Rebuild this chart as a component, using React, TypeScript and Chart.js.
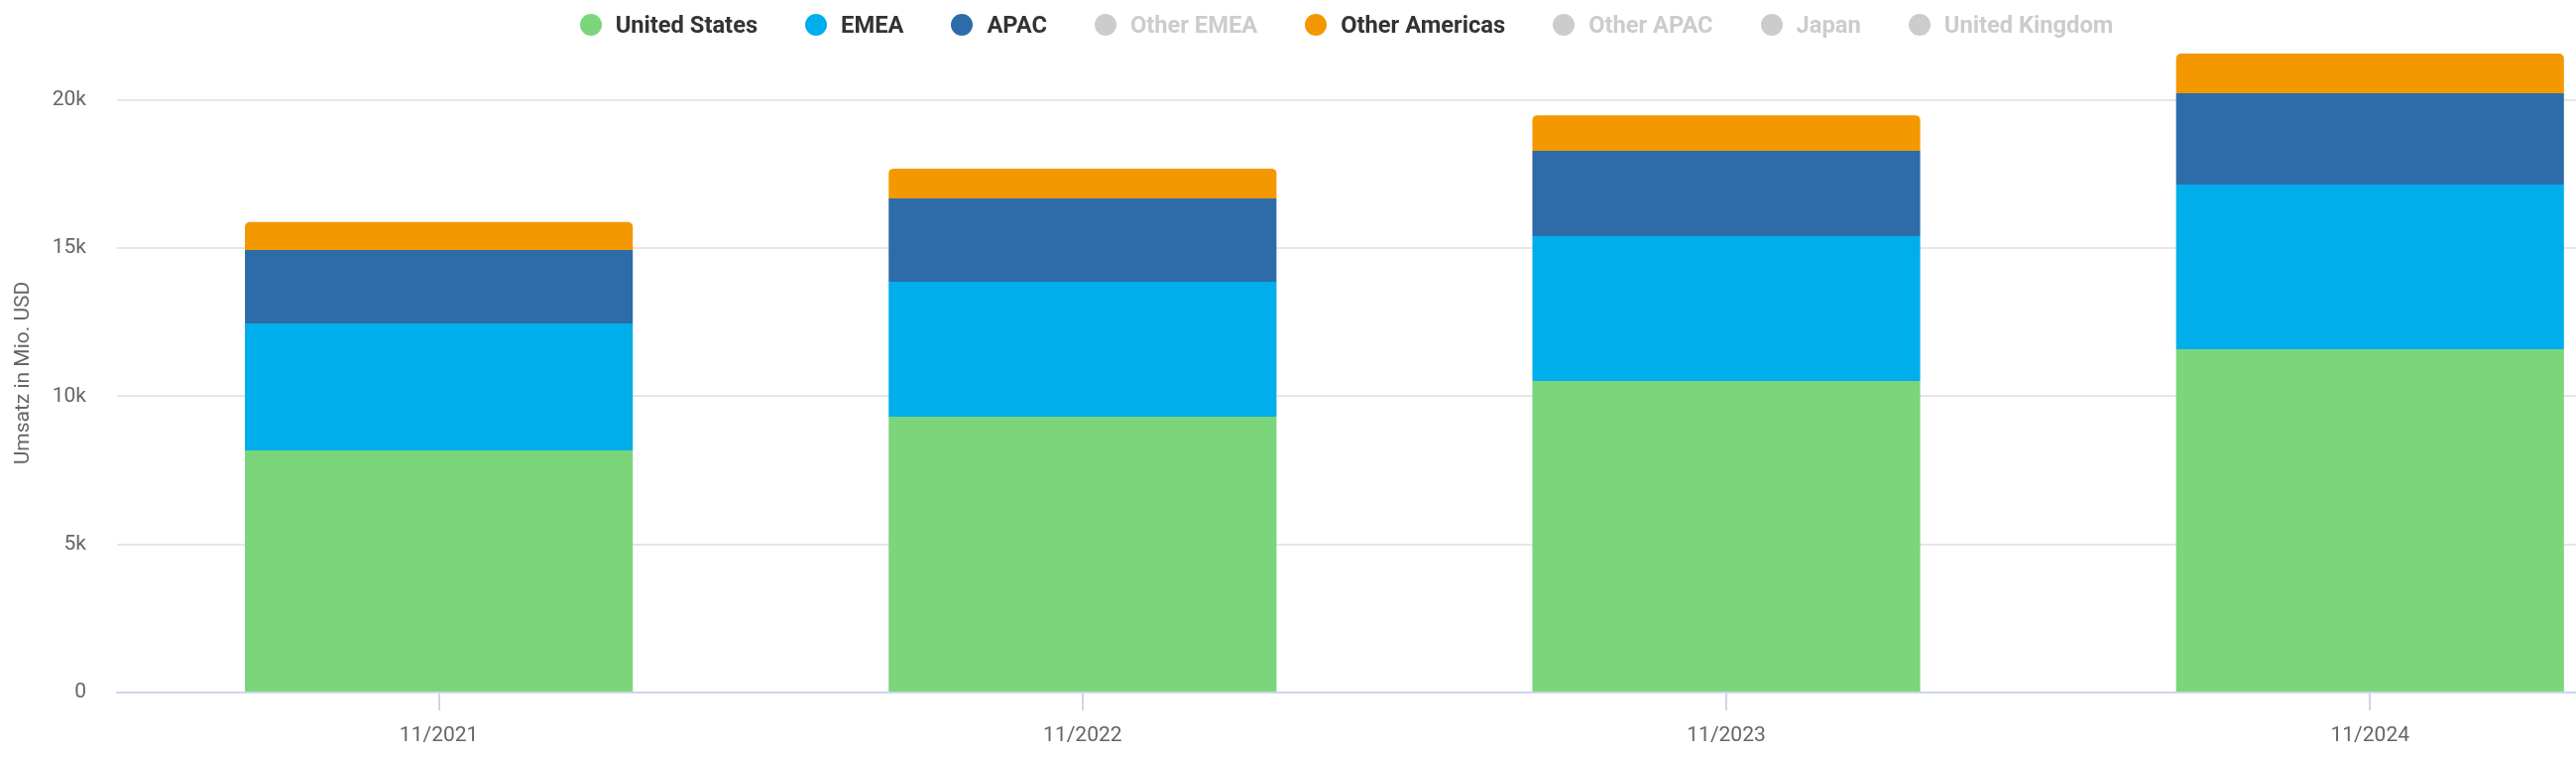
import React, { useEffect, useRef, useState } from 'react';
import { Chart, registerables } from 'chart.js';

Chart.register(...registerables);

// === Data (Umsatz in Mio. USD) ===
const PERIODS = ['11/2021', '11/2022', '11/2023', '11/2024'];

const UNITED_STATES = [8170, 9310, 10510, 11580];
const EMEA = [4280, 4550, 4890, 5560];
const APAC = [2480, 2810, 2880, 3080];
const OTHER_AMERICAS = [950, 1010, 1200, 1340];

// series switched off in the legend (no values shown)
const OTHER_EMEA: number[] = [];
const OTHER_APAC: number[] = [];
const JAPAN: number[] = [];
const UNITED_KINGDOM: number[] = [];

const Y_TICKS = [0, 5000, 10000, 15000, 20000];

const SERIES = [
  { label: 'United States', color: '#7bd57b', values: UNITED_STATES, hidden: false },
  { label: 'EMEA', color: '#00aeeb', values: EMEA, hidden: false },
  { label: 'APAC', color: '#2e6ca9', values: APAC, hidden: false },
  { label: 'Other EMEA', color: '#8d6e63', values: OTHER_EMEA, hidden: true },
  { label: 'Other Americas', color: '#f49800', values: OTHER_AMERICAS, hidden: false },
  { label: 'Other APAC', color: '#9575cd', values: OTHER_APAC, hidden: true },
  { label: 'Japan', color: '#e57373', values: JAPAN, hidden: true },
  { label: 'United Kingdom', color: '#4db6ac', values: UNITED_KINGDOM, hidden: true },
];

const FONT = 'Roboto, "Noto Sans", sans-serif';
const AXIS_GREY = '#666666';

// stacked totals -> top of the value axis
const TOTALS = PERIODS.map((_, i) =>
  SERIES.filter(s => !s.hidden).reduce((sum, s) => sum + (s.values[i] ?? 0), 0)
);

export default function App() {
  const canvasRef = useRef<HTMLCanvasElement>(null);
  const chartRef = useRef<Chart | null>(null);
  const [hidden, setHidden] = useState<boolean[]>(SERIES.map(s => s.hidden));

  useEffect(() => {
    document.body.style.margin = '0';
    if (!canvasRef.current) return;

    chartRef.current = new Chart(canvasRef.current, {
      type: 'bar',
      data: {
        datasets: SERIES.map(s => ({
          label: s.label,
          data: s.values.map((v, i) => ({ x: i, y: v })),
          backgroundColor: s.color,
          borderWidth: 0,
          borderRadius: 5,
          hidden: s.hidden,
          categoryPercentage: 1,
          barPercentage: 0.6025,
        })),
      },
      options: {
        responsive: true,
        maintainAspectRatio: false,
        animation: false,
        layout: { padding: { top: 54, left: 0, right: 0, bottom: 0 } },
        plugins: {
          legend: { display: false },
          tooltip: {
            callbacks: {
              title: items => PERIODS[items[0].parsed.x],
            },
          },
        },
        scales: {
          x: {
            type: 'linear',
            stacked: true,
            offset: false,
            min: -0.5,
            max: 3.32,
            afterBuildTicks: scale => {
              scale.ticks = PERIODS.map((_, i) => ({ value: i }));
            },
            afterFit: scale => {
              scale.height = 66;
            },
            ticks: {
              callback: v => PERIODS[Number(v)] ?? '',
              autoSkip: false,
              maxRotation: 0,
              padding: 13,
              color: AXIS_GREY,
              font: { family: FONT, size: 21 },
            },
            grid: {
              offset: false,
              drawOnChartArea: false,
              drawTicks: true,
              tickLength: 18,
              color: '#ccd6eb',
              lineWidth: 2,
            },
            border: { display: true, color: '#ccd6eb', width: 2 },
          },
          y: {
            stacked: true,
            min: 0,
            max: Math.max(...TOTALS),
            afterBuildTicks: scale => {
              scale.ticks = Y_TICKS.map(value => ({ value }));
            },
            afterFit: scale => {
              scale.width = 118;
            },
            ticks: {
              padding: 31,
              color: AXIS_GREY,
              font: { family: FONT, size: 21 },
              callback: v => (Number(v) === 0 ? '0' : `${Number(v) / 1000}k`),
            },
            grid: { color: '#e6e6e6', lineWidth: 2, drawTicks: false },
            border: { display: false },
            title: {
              display: true,
              text: 'Umsatz in Mio. USD',
              color: AXIS_GREY,
              font: { family: FONT, size: 21 },
              padding: { top: 11, bottom: 0 },
            },
          },
        },
      },
    });

    return () => {
      chartRef.current?.destroy();
      chartRef.current = null;
    };
  }, []);

  const toggle = (i: number) => {
    const chart = chartRef.current;
    if (!chart) return;
    const next = hidden.slice();
    next[i] = !next[i];
    chart.setDatasetVisibility(i, !next[i]);
    chart.update();
    setHidden(next);
  };

  return (
    <div style={{ position: 'relative', width: 2598, height: 764, background: '#fff' }}>
      {/* legend, centred over the plot area */}
      <div
        style={{
          position: 'absolute',
          top: 0,
          left: 118,
          right: 0,
          height: 50,
          display: 'flex',
          alignItems: 'center',
          justifyContent: 'center',
          gap: 48,
          fontFamily: FONT,
          fontWeight: 700,
          fontSize: 23.7,
          zIndex: 1,
        }}
      >
        {SERIES.map((s, i) => (
          <div
            key={s.label}
            onClick={() => toggle(i)}
            style={{
              display: 'flex',
              alignItems: 'center',
              cursor: 'pointer',
              color: hidden[i] ? '#cccccc' : '#333333',
            }}
          >
            <span
              style={{
                width: 22,
                height: 22,
                borderRadius: '50%',
                marginRight: 14,
                background: hidden[i] ? '#cccccc' : s.color,
              }}
            />
            <span>{s.label}</span>
          </div>
        ))}
      </div>
      <div style={{ position: 'absolute', inset: 0 }}>
        <canvas ref={canvasRef} />
      </div>
    </div>
  );
}
